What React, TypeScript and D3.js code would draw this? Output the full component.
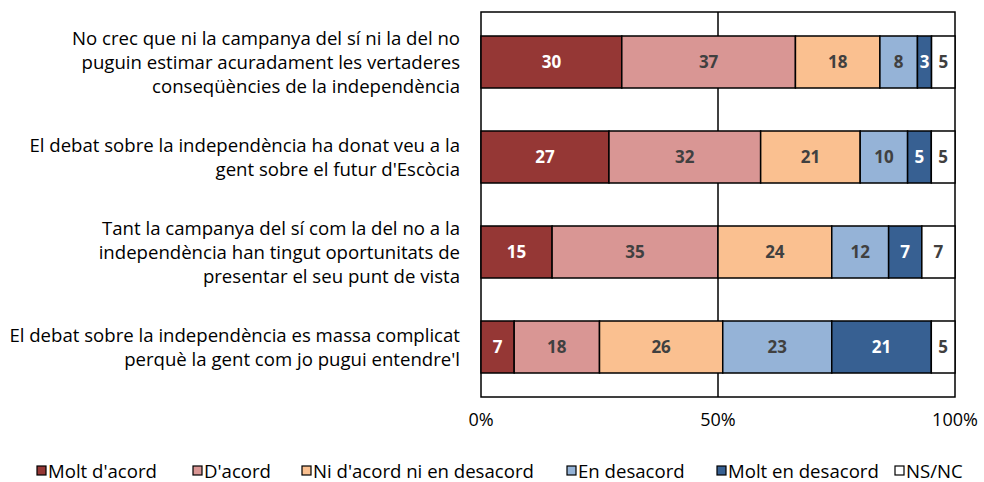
import React from "react";
import * as d3 from "d3";

const categories = [
  ["No crec que ni la campanya del sí ni la del no", "puguin estimar acuradament les vertaderes", "conseqüències de la independència"],
  ["El debat sobre la independència ha donat veu a la", "gent sobre el futur d'Escòcia"],
  ["Tant la campanya del sí com la del no a la", "independència han tingut oportunitats de", "presentar el seu punt de vista"],
  ["El debat sobre la independència es massa complicat", "perquè la gent com jo pugui entendre'l"],
];
const seriesNames = ["Molt d'acord", "D'acord", "Ni d'acord ni en desacord", "En desacord", "Molt en desacord", "NS/NC"];
const seriesColors = ["#953735", "#D99694", "#FAC090", "#95B3D7", "#376092", "#FFFFFF"];
const labelColors = ["#FFFFFF", "#404040", "#404040", "#404040", "#FFFFFF", "#404040"];
const moltAcord = [30, 27, 15, 7];
const acord = [37, 32, 35, 18];
const ni = [18, 21, 24, 26];
const desacord = [8, 10, 12, 23];
const moltDesacord = [3, 5, 7, 21];
const nsnc = [5, 5, 7, 5];
const tickValues = [0, 0.5, 1];
const legendX = [37, 193, 302, 567, 717, 895];

const FONT = "'Open Sans', sans-serif";

export default function App() {
  const width = 984, height = 482;
  const left = 481, right = 955, top = 12, bottom = 397;
  const rows = categories.map((c, i) => ({
    i,
    s0: moltAcord[i], s1: acord[i], s2: ni[i], s3: desacord[i], s4: moltDesacord[i], s5: nsnc[i],
  }));
  const keys = ["s0", "s1", "s2", "s3", "s4", "s5"];
  const stack = d3.stack<any>().keys(keys).offset(d3.stackOffsetExpand);
  const series = stack(rows);
  const x = d3.scaleLinear().domain([0, 1]).range([left, right]);
  const y = d3.scaleBand<number>().domain(rows.map((r) => r.i)).range([top, bottom]).paddingInner(0.4526).paddingOuter(0.2526);

  return (
    <svg width={width} height={height} style={{ position: "absolute", left: 0, top: 0 }}>
      <rect x={0} y={0} width={width} height={height} fill="#fff" />
      <rect x={left} y={top} width={right - left} height={bottom - top} fill="#fff" stroke="#000" strokeWidth={1.5} />
      <line x1={x(0.5)} x2={x(0.5)} y1={top} y2={bottom} stroke="#000" strokeWidth={1.5} />
      {series.map((s, si) => (
        <g key={si}>
          {s.map((d, di) => {
            const x0 = x(d[0]), x1 = x(d[1]);
            const yy = y(rows[di].i)!;
            const val = (rows[di] as any)[keys[si]];
            return (
              <g key={di}>
                <rect x={x0} y={yy} width={x1 - x0} height={y.bandwidth()} fill={seriesColors[si]} stroke="#000" strokeWidth={1.5} />
                <text x={(x0 + x1) / 2} y={yy + y.bandwidth() / 2} dy="0.36em" textAnchor="middle"
                  fontFamily={FONT} fontWeight="bold" fontSize={17} fill={labelColors[si]}>{val}</text>
              </g>
            );
          })}
        </g>
      ))}
      {categories.map((lines, i) => {
        const cy = y(i)! + y.bandwidth() / 2;
        const lh = 24;
        const start = cy - ((lines.length - 1) * lh) / 2;
        return (
          <text key={i} textAnchor="end" fontFamily={FONT} fontSize={18.6} fill="#000">
            {lines.map((l, li) => (
              <tspan key={li} x={460} y={start + li * lh} dy="0.35em">{l}</tspan>
            ))}
          </text>
        );
      })}
      {tickValues.map((t) => (
        <text key={t} x={x(t)} y={420} dy="0.35em" textAnchor="middle" fontFamily={FONT} fontSize={18} fill="#000">
          {d3.format(".0%")(t)}
        </text>
      ))}
      {seriesNames.map((n, i) => (
        <g key={n}>
          <rect x={legendX[i]} y={466} width={9} height={9} fill={seriesColors[i]} stroke="#000" strokeWidth={1.2} />
          <text x={legendX[i] + 11} y={471} dy="0.35em" fontFamily={FONT} fontSize={18.6} fill="#000">{n}</text>
        </g>
      ))}
    </svg>
  );
}
